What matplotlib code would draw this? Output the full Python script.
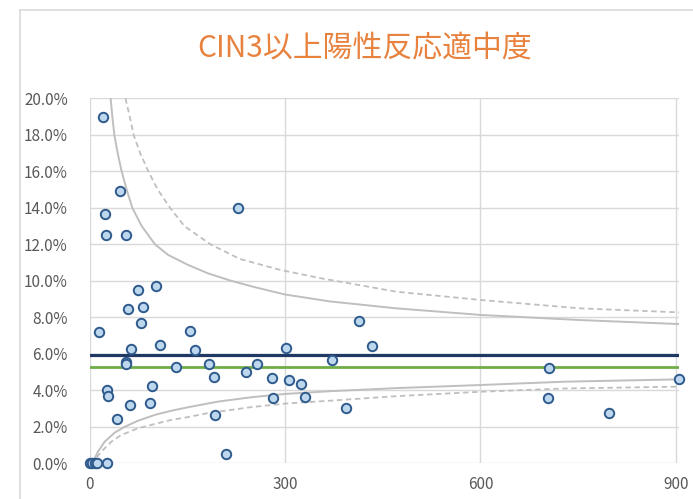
import matplotlib
matplotlib.use('Agg')
import matplotlib.pyplot as plt
from matplotlib.lines import Line2D
from matplotlib.ticker import PercentFormatter

plt.rcParams['font.family'] = ['Noto Sans CJK JP', 'DejaVu Sans']

# ── data ─────────────────────────────────────────────────────────────────────
TITLE = 'CIN3以上陽性反応適中度'

# each clinic: number of cases (x) and positive predictive value in % (y)
cases = [0, 3, 7, 11, 26,
         20.5, 22.5, 24, 46.6, 56, 227, 14.3, 74, 58.9, 82, 77.6, 102,
         63, 107, 54.8, 54.8, 132, 153, 162, 183, 191, 192, 209, 240,
         256.5, 279.6, 281, 300.5, 305, 324, 330.6, 372, 392.7, 412.7,
         434, 706, 704, 797.5, 905, 25.6, 28, 41.9, 61.5, 92, 95]
ppv = [0, 0, 0, 0, 0,
       19.0, 13.64, 12.5, 14.9, 12.5, 14.0, 7.18, 9.5, 8.47, 8.56, 7.7, 9.73,
       6.25, 6.47, 5.57, 5.46, 5.28, 7.23, 6.21, 5.46, 4.73, 2.63, 0.49, 5.0,
       5.46, 4.69, 3.56, 6.34, 4.56, 4.35, 3.65, 5.64, 3.05, 7.8,
       6.45, 5.24, 3.56, 2.77, 4.64, 4.02, 3.7, 2.41, 3.19, 3.29, 4.24]

overall_ppv = 5.92   # dark blue line
target_ppv = 5.29    # green line

# funnel limits
up_solid_x = [31.7, 34.3, 37.4, 42.5, 48.6, 56.3, 65, 79.4, 99.8, 120, 150, 182,
              215, 250, 299.5, 368.7, 471, 600, 752.7, 905]
up_solid_y = [20.0, 19.0, 18.0, 17.0, 16.0, 15.0, 14.0, 13.0, 12.0, 11.42, 10.88, 10.4,
              10.02, 9.68, 9.25, 8.87, 8.49, 8.13, 7.85, 7.63]
up_dash_x = [54.5, 61, 67, 77, 89.6, 104, 123, 145, 185, 230, 291.9, 353,
             471, 600, 752.7, 905]
up_dash_y = [20.0, 19.0, 18.0, 17.0, 16.0, 15.0, 14.0, 13.0, 12.0, 11.2, 10.6, 10.15,
             9.4, 8.95, 8.49, 8.27]
lo_solid_x = [0, 4.6, 12.3, 22.5, 37.9, 53.3, 73.7, 99.3, 125, 150.5, 196.6, 248,
              299.5, 368.7, 471, 600, 728, 905]
lo_solid_y = [0, 0.09, 0.64, 1.18, 1.68, 2.0, 2.33, 2.65, 2.88, 3.07, 3.38, 3.62,
              3.8, 3.95, 4.12, 4.29, 4.47, 4.6]
lo_dash_x = [0, 7.2, 17.4, 32.7, 48, 73.7, 99.3, 125, 150.5, 181, 248,
             299.5, 368.7, 471, 600, 728, 905]
lo_dash_y = [0, 0.18, 0.64, 1.18, 1.55, 1.92, 2.15, 2.38, 2.53, 2.75, 3.08,
             3.27, 3.43, 3.68, 3.92, 4.1, 4.2]

xticks = [0, 300, 600, 900]
yticks = [0, 2, 4, 6, 8, 10, 12, 14, 16, 18, 20]

# ── colours ──────────────────────────────────────────────────────────────────
C_TITLE = '#E8823F'
C_GRID = '#D9D9D9'
C_TEXT = '#595959'
C_FUNNEL = '#BFBFBF'
C_NAVY = '#203864'
C_GREEN = '#70AD47'

fig = plt.figure(figsize=(6.93, 4.99), dpi=100)
ax = fig.add_axes([90 / 693, 35.7 / 499, 589 / 693, 365 / 499])

ax.plot(up_solid_x, up_solid_y, color=C_FUNNEL, lw=1.4, zorder=2)
ax.plot(lo_solid_x, lo_solid_y, color=C_FUNNEL, lw=1.4, zorder=2)
ax.plot(up_dash_x, up_dash_y, color=C_FUNNEL, lw=1.3, ls=(0, (3, 2)), zorder=2)
ax.plot(lo_dash_x, lo_dash_y, color=C_FUNNEL, lw=1.3, ls=(0, (3, 2)), zorder=2)

ax.axhline(overall_ppv, color=C_NAVY, lw=2.3, zorder=3)
ax.axhline(target_ppv, color=C_GREEN, lw=2.0, zorder=3)

ax.plot(cases, ppv, ls='none', marker='o', ms=6.8, mfc='#BDD7EE',
        mec='#2F5A8C', mew=1.4, zorder=4, clip_on=False)

ax.set_xlim(0, 905)
ax.set_ylim(0, 20)
ax.set_xticks(xticks)
ax.set_yticks(yticks)
ax.yaxis.set_major_formatter(PercentFormatter(decimals=1))
ax.grid(True, color=C_GRID, lw=1.0, zorder=0)
ax.set_axisbelow(True)
for s in ax.spines.values():
    s.set_visible(False)
ax.tick_params(length=0, labelsize=11, labelcolor=C_TEXT)
ax.tick_params(axis='y', pad=16)
ax.tick_params(axis='x', pad=9)

fig.text(365 / 693, 1 - 49 / 499, TITLE, ha='center', va='center',
         fontsize=21.5, color=C_TITLE)

# chart-area border (cropped on right and bottom)
fig.add_artist(Line2D([20 / 693, 1], [1 - 10 / 499, 1 - 10 / 499],
                      transform=fig.transFigure, color=C_GRID, lw=1.2))
fig.add_artist(Line2D([20 / 693, 20 / 693], [0, 1 - 10 / 499],
                      transform=fig.transFigure, color=C_GRID, lw=1.2))

fig.savefig('out.png', dpi=100)
